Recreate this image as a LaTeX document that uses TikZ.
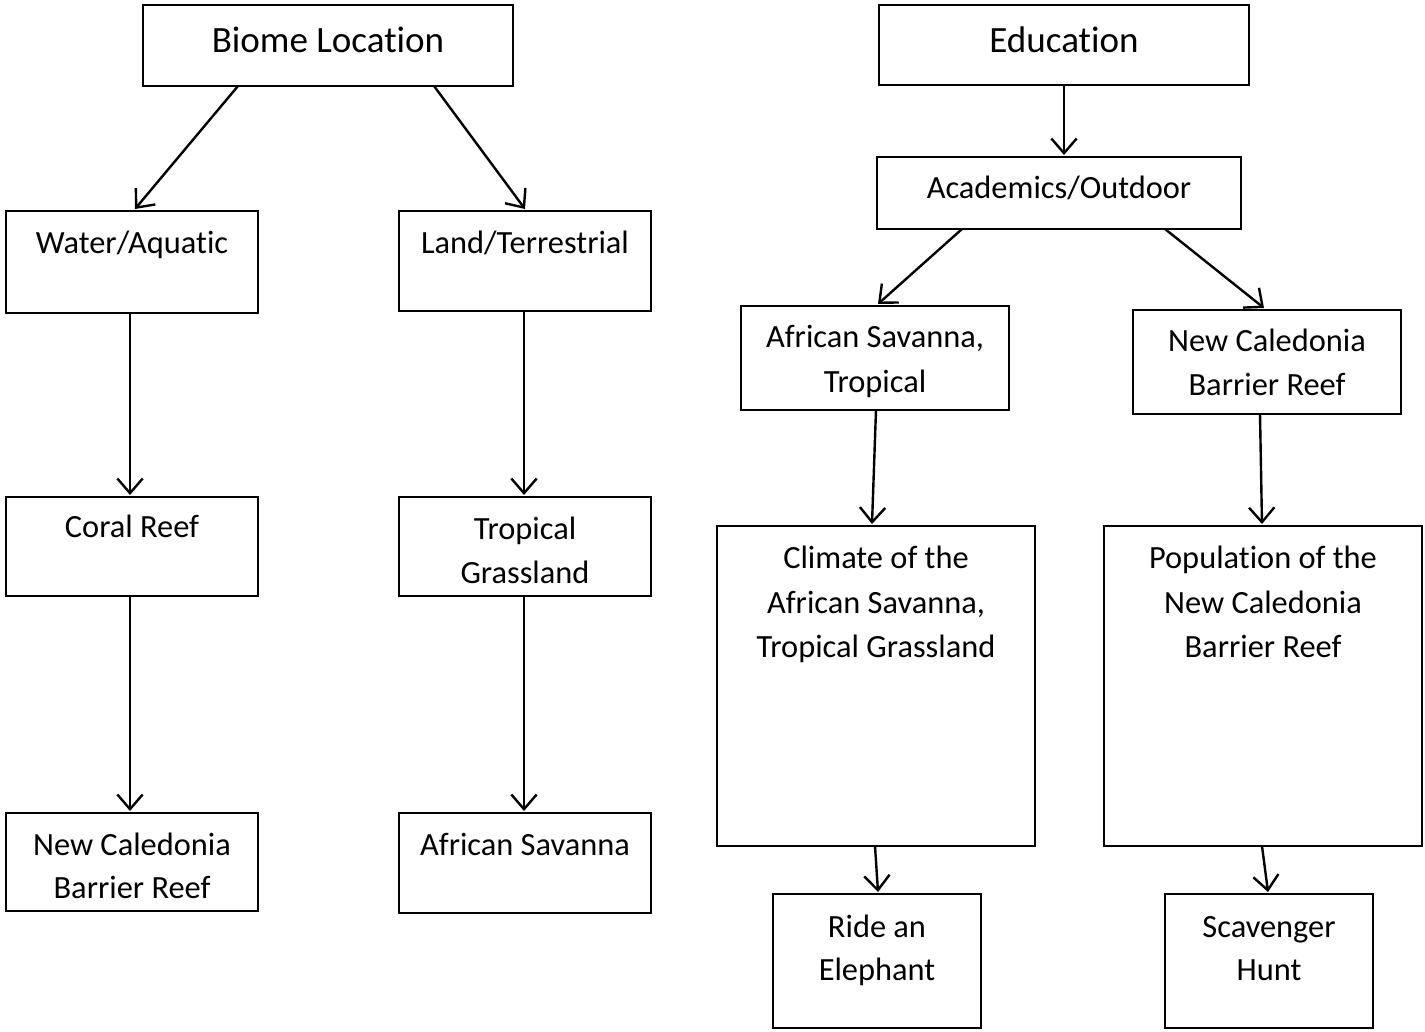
\documentclass[tikz,border=0pt]{standalone}
\usepackage{fontspec}
\setmainfont[Ligatures={NoCommon,NoRare,NoContextual}]{Carlito}
\usetikzlibrary{arrows.meta}
\tikzset{
  bx/.style 2 args={draw, line width=1.8pt, minimum width=#1, minimum height=#2, inner sep=0pt, outer sep=0pt},
  tx/.style={anchor=base, inner sep=0pt, font=\fontsize{24.3}{30}\selectfont},
  ttl/.style={anchor=base, inner sep=0pt, font=\fontsize{27.8}{34}\selectfont},
  arr/.style={line width=1.8pt, -{Straight Barb[length=11pt, width=19pt, line width=1.8pt]}}
}
\begin{document}
\begin{tikzpicture}[x=0.75pt, y=-0.75pt]
\useasboundingbox (0,0) rectangle (1425,1032);
% boxes
\node[bx={277.5pt}{60.75pt}] (biome) at (328,45.5) {};
\node[bx={189pt}{76.5pt}] (water) at (132,262) {};
\node[bx={189pt}{75pt}] (land) at (525,261) {};
\node[bx={189pt}{74.25pt}] (coral) at (132,546.5) {};
\node[bx={189pt}{74.25pt}] (tropg) at (525,546.5) {};
\node[bx={189pt}{73.5pt}] (ncbrL) at (132,862) {};
\node[bx={189pt}{75pt}] (afsav) at (525,863) {};
\node[bx={277.5pt}{60pt}] (edu) at (1064,45) {};
\node[bx={273pt}{54pt}] (acad) at (1059,193) {};
\node[bx={201pt}{78pt}] (afst) at (875,358) {};
\node[bx={201pt}{78pt}] (ncbrR) at (1267,362) {};
\node[bx={238.5pt}{240pt}] (climate) at (876,686) {};
\node[bx={238.5pt}{240pt}] (popul) at (1263,686) {};
\node[bx={156pt}{100.5pt}] (ride) at (877,961) {};
\node[bx={156pt}{100.5pt}] (scav) at (1269,961) {};
% texts
\node[ttl] (t-biome) at (328,52) {Biome Location};
\node[ttl] (t-edu) at (1064,52) {Education};
\node[tx] (t-water) at (132,253) {Water/Aquatic};
\node[tx] (t-land) at (525,253) {Land/Terrestrial};
\node[tx] (t-coral) at (132,537) {Coral Reef};
\node[tx] (t-tropg1) at (525,539) {Tropical};
\node[tx] (t-tropg2) at (525,583) {Grassland};
\node[tx] (t-ncbrL1) at (132,855) {New Caledonia};
\node[tx] (t-ncbrL2) at (132,898) {Barrier Reef};
\node[tx] (t-afsav) at (525,855) {African Savanna};
\node[tx] (t-acad) at (1059,198) {Academics/Outdoor};
\node[tx] (t-afst1) at (875,347) {African Savanna,};
\node[tx] (t-afst2) at (875,392) {Tropical};
\node[tx] (t-ncbrR1) at (1267,351) {New Caledonia};
\node[tx] (t-ncbrR2) at (1267,395) {Barrier Reef};
\node[tx] (t-clim1) at (876,568) {Climate of the};
\node[tx] (t-clim2) at (876,613) {African Savanna,};
\node[tx] (t-clim3) at (876,657) {Tropical Grassland};
\node[tx] (t-pop1) at (1263,568) {Population of the};
\node[tx] (t-pop2) at (1263,613) {New Caledonia};
\node[tx] (t-pop3) at (1263,657) {Barrier Reef};
\node[tx] (t-ride1) at (877,937) {Ride an};
\node[tx] (t-ride2) at (877,980) {Elephant};
\node[tx] (t-scav1) at (1269,937) {Scavenger};
\node[tx] (t-scav2) at (1269,980) {Hunt};
% connectors
\draw[arr] ([shift={(-90,0)}]biome.south) -- ([shift={(3,-2)}]water.north);
\draw[arr] ([shift={(106,0)}]biome.south) -- ([shift={(0,-2)}]land.north);
\draw[arr] ([shift={(-2,0)}]water.south) -- ([shift={(-2,-2)}]coral.north);
\draw[arr] ([shift={(-1,0)}]land.south) -- ([shift={(-1,-2)}]tropg.north);
\draw[arr] ([shift={(-2,0)}]coral.south) -- ([shift={(-2,-2)}]ncbrL.north);
\draw[arr] ([shift={(-1,0)}]tropg.south) -- ([shift={(-1,-2)}]afsav.north);
\draw[arr] ([shift={(0,0)}]edu.south) -- ([shift={(5,-2)}]acad.north);
\draw[arr] ([shift={(-97,0)}]acad.south) -- ([shift={(3,-2)}]afst.north);
\draw[arr] ([shift={(106,0)}]acad.south) -- ([shift={(-3,-2)}]ncbrR.north);
\draw[arr] ([shift={(1,0)}]afst.south) -- ([shift={(-4,-2)}]climate.north);
\draw[arr] ([shift={(-7,0)}]ncbrR.south) -- ([shift={(-1,-2)}]popul.north);
\draw[arr] ([shift={(-1,0)}]climate.south) -- ([shift={(1,-2)}]ride.north);
\draw[arr] ([shift={(-1,0)}]popul.south) -- ([shift={(-1,-2)}]scav.north);
\end{tikzpicture}
\end{document}
